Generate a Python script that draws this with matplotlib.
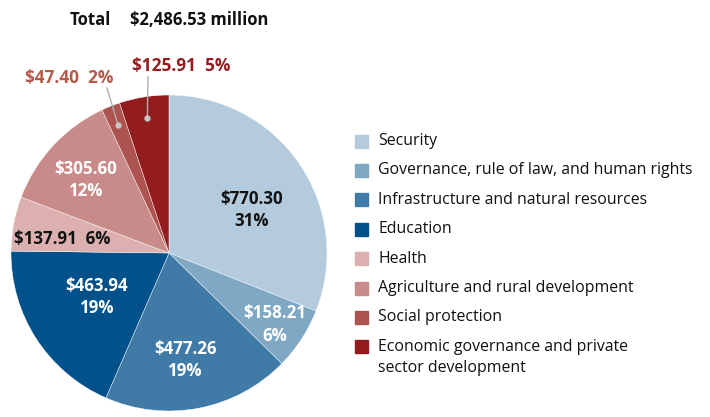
import numpy as np
import matplotlib.pyplot as plt
from matplotlib.patches import Rectangle

plt.rcParams['font.family'] = ['Open Sans', 'DejaVu Sans']

# Data
sectors = ["Security", "Governance, rule of law, and human rights",
           "Infrastructure and natural resources", "Education", "Health",
           "Agriculture and rural development", "Social protection",
           "Economic governance and private\nsector development"]
amounts = [770.30, 158.21, 477.26, 463.94, 137.91, 305.60, 47.40, 125.91]
pct_labels = ["31%", "6%", "19%", "19%", "6%", "12%", "2%", "5%"]
total_label = "$2,486.53 million"
colors = ["#b3cbdc", "#7fa8c4", "#3f7ba6", "#03518a", "#dbb0ae",
          "#c98b89", "#ad5450", "#931c1f"]

W, H = 710, 417
fig = plt.figure(figsize=(W / 100, H / 100), dpi=100)
ax = fig.add_axes([0, 0, 1, 1])

cx, cy, R = 169, 164, 158
wedges, _ = ax.pie(amounts, colors=colors, startangle=90, counterclock=False,
                   center=(cx, cy), radius=R,
                   wedgeprops=dict(linewidth=0.3, edgecolor="white"))
ax.set_xlim(0, W)
ax.set_ylim(0, H)
ax.set_aspect("equal")
ax.axis("off")


def point_on(w, r, shift=0.0):
    a = np.radians((w.theta1 + w.theta2) / 2 + shift)
    return cx + r * R * np.cos(a), cy + r * R * np.sin(a)


# in-slice labels: (radius fraction, angle shift, text colour, two lines?)
inside = {0: (0.59, -6.5, "#111111", True),
          1: (0.81, -1.0, "white", True),
          2: (0.685, -2.5, "white", True),
          3: (0.534, -1.5, "white", True),
          4: (0.683, 3.2, "#111111", False),
          5: (0.70, 1.5, "white", True)}
for i, (r, sh, col, two) in inside.items():
    x, y = point_on(wedges[i], r, sh)
    sep = "\n" if two else "  "
    ax.text(x, y, f"${amounts[i]:.2f}{sep}{pct_labels[i]}", ha="center",
            va="center", fontsize=12.2, fontweight="bold", color=col,
            linespacing=1.3)

# outside labels with leader lines
outside = {6: (0.875, (107, 329), (69, 339), "#b5594b"),
           7: (0.865, (148, 340), (181, 351), "#931c1f")}
for i, (r, end, tpos, col) in outside.items():
    x, y = point_on(wedges[i], r)
    ax.plot([x, end[0]], [y, end[1]], color="#b0b0b0", lw=1)
    ax.plot(x, y, "o", color="#c8c8c8", ms=3.5)
    ax.text(tpos[0], tpos[1], f"${amounts[i]:.2f}  {pct_labels[i]}",
            ha="center", va="center", fontsize=12.4, fontweight="bold",
            color=col)

# title
fig.text(70 / W, 1 - 20 / H, "Total", fontsize=12, fontweight="bold",
         va="center", ha="left", color="#111111")
fig.text(130 / W, 1 - 20 / H, total_label, fontsize=12, fontweight="bold",
         va="center", ha="left", color="#111111")

# legend
y0, step = 141, 29.4
for i, (name, c) in enumerate(zip(sectors, colors)):
    yy = y0 + i * step
    ax.add_patch(Rectangle((355, H - yy - 6.5), 13, 13, color=c))
    first, *rest = name.split("\n")
    ax.text(378, H - yy, first, fontsize=11.4, va="center", ha="left",
            color="#111111")
    if rest:
        ax.text(378, H - yy - 21, rest[0], fontsize=11.4, va="center",
                ha="left", color="#111111")

fig.savefig("out.png", dpi=100)
